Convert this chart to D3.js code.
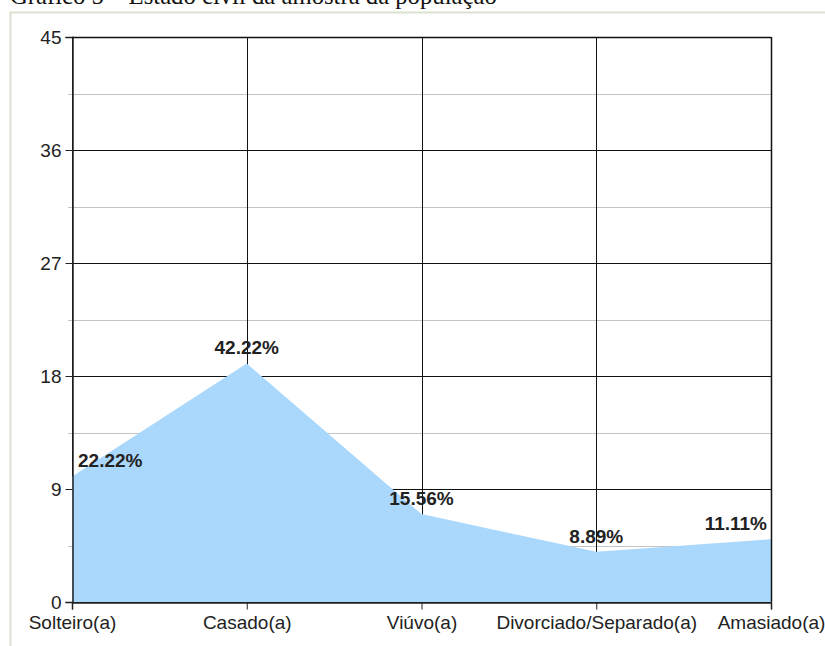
<!DOCTYPE html>
<html>
<head>
<meta charset="utf-8">
<script src="https://cdn.jsdelivr.net/npm/d3@7"></script>
<style>
  body { margin: 0; background: #fff; }
  .axis text { font-family: "Liberation Sans", Arial, sans-serif; font-size: 19px; fill: #222; }
  .axis path, .axis line { stroke: #222; }
</style>
</head>
<body>
<div class="graph"></div>
<script>
// estado civil, contagens (total 45)
var categories = ['Solteiro(a)', 'Casado(a)', 'Viúvo(a)', 'Divorciado/Separado(a)', 'Amasiado(a)'];
var counts = [10, 19, 7, 4, 5];
var pctLabels = ['22.22%', '42.22%', '15.56%', '8.89%', '11.11%'];
var yTicks = [0, 9, 18, 27, 36, 45];
var yMinor = [4.5, 13.5, 22.5, 31.5, 40.5];

var size = { width: 825, height: 646 };
var plot = { left: 72, right: 771, top: 37, bottom: 602 };

var svg = d3.select('.graph').append('svg')
            .attr('width', size.width)
            .attr('height', size.height);

// moldura da página e título
svg.append('rect')
  .attr('x', 10.5).attr('y', 12.5)
  .attr('width', 840).attr('height', 660)
  .attr('fill', 'none')
  .attr('stroke', '#dbe2d0')
  .attr('stroke-width', 2);

svg.append('text')
  .attr('x', 10).attr('y', 4)
  .attr('font-family', '"Liberation Serif", "Times New Roman", serif')
  .attr('font-size', 24.7)
  .attr('fill', '#111')
  .text('Gráfico 5 – Estado civil da amostra da população');

var xScale = d3.scalePoint().domain(categories).range([plot.left, plot.right]);
var yScale = d3.scaleLinear().domain([0, 45]).range([plot.bottom, plot.top]);

var data = categories.map(function(c, i) {
  return { cat: c, value: counts[i], label: pctLabels[i] };
});

// grade
svg.append('g').selectAll('line').data(yMinor).enter().append('line')
  .attr('x1', plot.left - 4).attr('x2', plot.right)
  .attr('y1', function(d) { return Math.round(yScale(d)) + 0.5; })
  .attr('y2', function(d) { return Math.round(yScale(d)) + 0.5; })
  .attr('stroke', '#c4c4c4');

svg.append('g').selectAll('line').data(yTicks).enter().append('line')
  .attr('x1', plot.left).attr('x2', plot.right)
  .attr('y1', function(d) { return Math.round(yScale(d)) + 0.5; })
  .attr('y2', function(d) { return Math.round(yScale(d)) + 0.5; })
  .attr('stroke', '#111');

svg.append('g').selectAll('line').data(categories).enter().append('line')
  .attr('x1', function(d) { return Math.round(xScale(d)) + 0.5; })
  .attr('x2', function(d) { return Math.round(xScale(d)) + 0.5; })
  .attr('y1', plot.top).attr('y2', plot.bottom)
  .attr('stroke', '#111');

// área
var area = d3.area()
  .x(function(d) { return xScale(d.cat); })
  .y0(yScale(0))
  .y1(function(d) { return yScale(d.value); });

svg.append('path').datum(data)
  .attr('d', area)
  .attr('fill', '#aad8fc');

// eixos
var yAxis = d3.axisLeft(yScale).tickValues(yTicks).tickSize(7).tickPadding(4);
var xAxis = d3.axisBottom(xScale).tickSize(7).tickPadding(6);

svg.append('g').attr('class', 'axis')
  .attr('transform', 'translate(' + (plot.left + 0.5) + ',0)')
  .call(yAxis)
  .call(function(g) { g.select('.domain').attr('stroke-width', 1.5); });

svg.append('g').attr('class', 'axis')
  .attr('transform', 'translate(0,' + (plot.bottom + 0.5) + ')')
  .call(xAxis)
  .call(function(g) { g.select('.domain').attr('stroke-width', 1.5); });

// borda direita e superior
svg.append('line')
  .attr('x1', plot.right + 0.5).attr('x2', plot.right + 0.5)
  .attr('y1', plot.top).attr('y2', plot.bottom)
  .attr('stroke', '#111').attr('stroke-width', 1.5);
svg.append('line')
  .attr('x1', plot.left).attr('x2', plot.right)
  .attr('y1', plot.top + 0.5).attr('y2', plot.top + 0.5)
  .attr('stroke', '#111').attr('stroke-width', 1.5);

// rótulos
svg.append('g').selectAll('text').data(data).enter().append('text')
  .attr('font-family', '"Liberation Sans", Arial, sans-serif')
  .attr('font-size', 19)
  .attr('font-weight', 'bold')
  .attr('fill', '#222')
  .attr('y', function(d) { return yScale(d.value) - 9; })
  .text(function(d) { return d.label; })
  .attr('x', function(d) {
    var w = this.getComputedTextLength();
    var x = xScale(d.cat) - w / 2;
    return Math.max(plot.left + 6, Math.min(plot.right - 4 - w, x));
  });
</script>
</body>
</html>
